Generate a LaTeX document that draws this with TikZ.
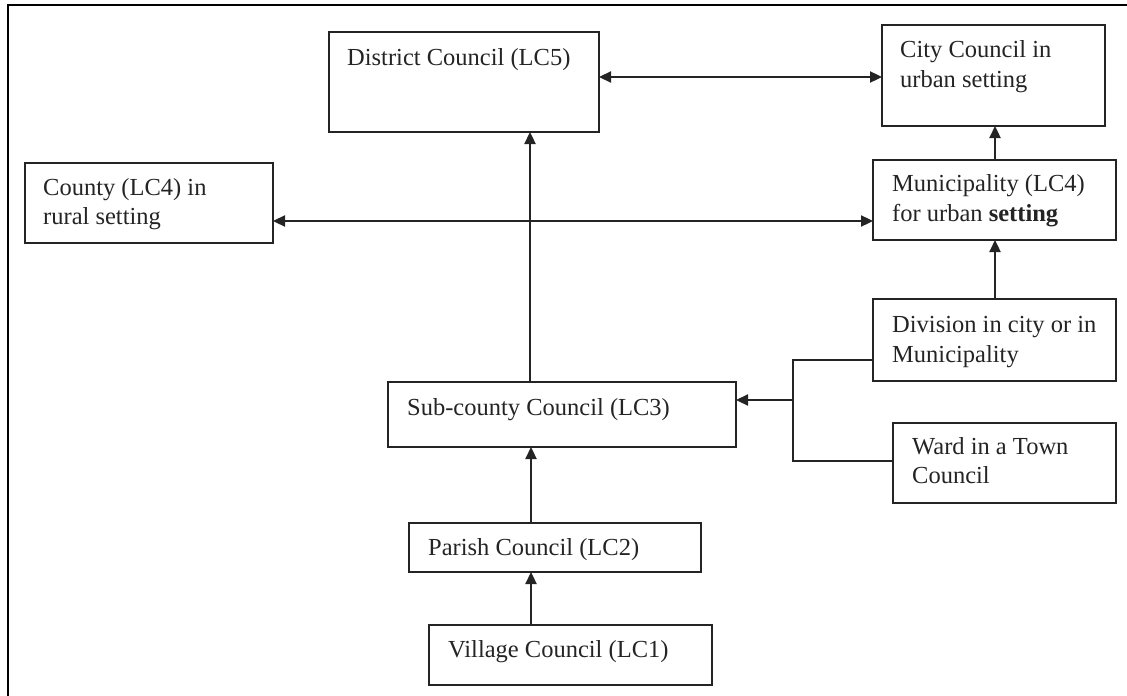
\documentclass[tikz,border=0pt]{standalone}
\usepackage{fontspec}
\setmainfont{Liberation Serif}
\usetikzlibrary{arrows.meta}
\definecolor{ink}{rgb}{0.14,0.14,0.14}
\tikzset{
  box/.style={draw=ink, line width=2.3pt, inner sep=0pt, outer sep=0pt, anchor=north west},
  lbl/.style={anchor=base west, inner sep=0pt, text=ink, font=\fontsize{24.5}{29}\selectfont},
  arr/.style={draw=ink, line width=2.3pt, -{Triangle[length=12pt,width=11pt]}},
  darr/.style={draw=ink, line width=2.3pt, {Triangle[length=12pt,width=11pt]}-{Triangle[length=12pt,width=11pt]}},
  lin/.style={draw=ink, line width=2.3pt}
}
\newcommand{\bx}[5]{\node[box, minimum width=#4pt-#2pt, minimum height=#5pt-#3pt] (#1) at (#2,#3) {};}
\begin{document}
\begin{tikzpicture}[x=1pt,y=-1pt]
\useasboundingbox (0,0) rectangle (1127,696);
% frame
\coordinate (fl) at (8,696);
\coordinate (fc) at (8,5);
\coordinate (fr) at (1127,5);
\draw[line width=2.3pt, black] (fl) -- (fc) -- (fr);
% boxes
\bx{dist}{329}{32}{599}{132}
\bx{city}{882}{25}{1105}{126}
\bx{county}{25}{163}{273}{243}
\bx{muni}{873}{160}{1116}{240}
\bx{div}{873}{299}{1116}{381}
\bx{ward}{893}{423}{1116}{503}
\bx{sub}{388}{382}{736}{447}
\bx{par}{409}{523}{701}{572}
\bx{vil}{429}{625}{712}{685}
% texts
\node[lbl] (t1) at (347,65) {District Council (LC5)};
\node[lbl] (t2) at (900,57) {City Council in};
\node[lbl] (t3) at (900,87) {urban setting};
\node[lbl] (t4) at (43,195) {County (LC4) in};
\node[lbl] (t5) at (43,224) {rural setting};
\node[lbl] (t6) at (892,191) {Municipality (LC4)};
\node[lbl] (t7) at (892,221) {for urban \textbf{setting}};
\node[lbl] (t8) at (892,332) {Division in city or in};
\node[lbl] (t9) at (892,362) {Municipality};
\node[lbl] (t10) at (912,454) {Ward in a Town};
\node[lbl] (t11) at (912,483) {Council};
\node[lbl] (t12) at (407,415) {Sub-county Council (LC3)};
\node[lbl] (t13) at (428,555) {Parish Council (LC2)};
\node[lbl] (t14) at (448,657) {Village Council (LC1)};
% helper coordinates
\coordinate (ya) at (0,77);
\coordinate (yb) at (0,221);
\coordinate (xa) at (530,0);
\coordinate (xb) at (995,0);
\coordinate (xc) at (531,0);
\coordinate (j1) at (793,360);
\coordinate (j2) at (793,461);
\coordinate (jm) at (793,400);
% connectors
\draw[darr] (dist.east |- ya) -- (city.west |- ya);
\draw[darr] (county.east |- yb) -- (muni.west |- yb);
\draw[arr] (sub.north -| xa) -- (dist.south -| xa);
\draw[arr] (muni.north -| xb) -- (city.south -| xb);
\draw[arr] (div.north -| xb) -- (muni.south -| xb);
\draw[arr] (par.north -| xc) -- (sub.south -| xc);
\draw[arr] (vil.north -| xc) -- (par.south -| xc);
\draw[lin] (div.west |- j1) -- (j1) -- (j2) -- (ward.west |- j2);
\draw[arr] (jm) -- (sub.east |- jm);
\end{tikzpicture}
\end{document}
